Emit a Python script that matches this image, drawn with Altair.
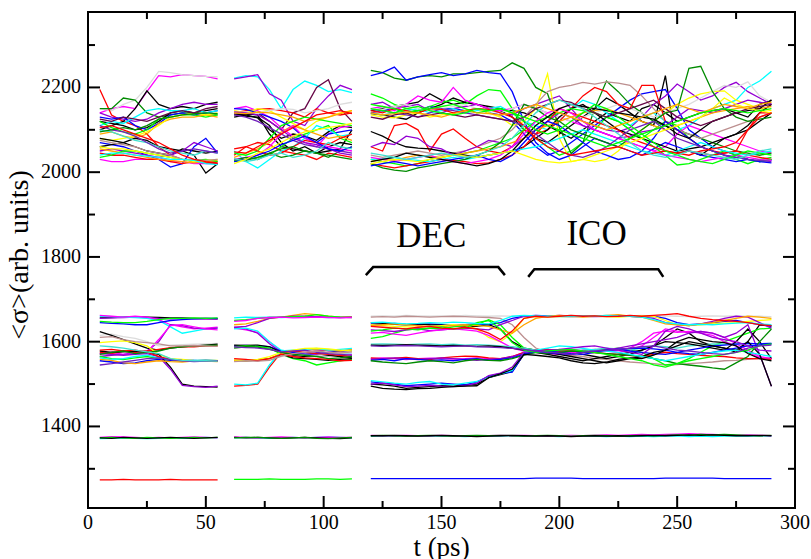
import altair as alt
import pandas as pd

# ---- sampling times (ps) of the three simulation windows ----
T_A = [5, 10, 15, 20, 25, 30, 35, 40, 45, 50, 55]
T_B = [62, 67, 72, 77, 82, 87, 92, 97, 102, 107, 112]
T_C = [120, 125, 130, 135, 140, 145, 150, 155, 160, 165, 170, 175,
       180, 185, 190, 195, 200, 205, 210, 215, 220, 225, 230, 235,
       240, 245, 250, 255, 260, 265, 270, 275, 280, 285, 290]

# ---- grace-style colour set ----
BLACK, RED, GREEN, BLUE = "#000000", "#ff0000", "#00ff00", "#0000ff"
YELLOW, BROWN, GREY, VIOLET = "#ffff00", "#bc8f8f", "#dcdcdc", "#9400d3"
CYAN, MAGENTA, ORANGE, INDIGO = "#00ffff", "#ff00ff", "#ffa500", "#7221bc"
MAROON, TURQ, GREEN4 = "#670748", "#40e0d0", "#008b00"

# ---- window A: upper band ----
A_UPPER = [
    (MAGENTA, [2140, 2150, 2155, 2150, 2190, 2228, 2225, 2230, 2228, 2226, 2220]),
    (GREY,    [2150, 2145, 2160, 2170, 2200, 2238, 2235, 2230, 2228, 2226, 2225]),
    (RED,     [2195, 2135, 2120, 2110, 2090, 2060, 2040, 2030, 2025, 2022, 2025]),
    (GREEN4,  [2150, 2150, 2175, 2170, 2140, 2130, 2135, 2140, 2140, 2135, 2135]),
    (BLACK,   [2100, 2110, 2120, 2150, 2192, 2160, 2150, 2155, 2150, 2160, 2165]),
    (BLACK,   [2120, 2115, 2110, 2100, 2105, 2120, 2140, 2145, 2140, 2145, 2150]),
    (VIOLET,  [2140, 2130, 2125, 2120, 2125, 2140, 2150, 2160, 2165, 2160, 2160]),
    (BLUE,    [2130, 2125, 2130, 2110, 2100, 2115, 2135, 2140, 2135, 2140, 2145]),
    (CYAN,    [2110, 2120, 2115, 2130, 2145, 2150, 2145, 2145, 2150, 2140, 2145]),
    (GREEN,   [2120, 2105, 2095, 2090, 2100, 2125, 2130, 2135, 2135, 2130, 2135]),
    (ORANGE,  [2090, 2095, 2085, 2080, 2090, 2115, 2125, 2130, 2130, 2135, 2130]),
    (YELLOW,  [2080, 2075, 2080, 2085, 2095, 2110, 2130, 2135, 2140, 2135, 2140]),
    (BLACK,   [2080, 2075, 2070, 2060, 2050, 2045, 2040, 2055, 2050, 2045, 2050]),
    (BLUE,    [2070, 2065, 2060, 2050, 2040, 2030, 2012, 2020, 2060, 2080, 2045]),
    (BLACK,   [2060, 2065, 2070, 2080, 2075, 2060, 2055, 2050, 2040, 1998, 2020]),
    (VIOLET,  [2050, 2055, 2050, 2045, 2040, 2035, 2040, 2050, 2070, 2060, 2050]),
    (MAGENTA, [2030, 2025, 2025, 2030, 2030, 2035, 2025, 2025, 2020, 2020, 2020]),
    (RED,     [2045, 2040, 2040, 2035, 2030, 2030, 2025, 2020, 2025, 2022, 2020]),
    (ORANGE,  [2055, 2050, 2045, 2040, 2035, 2030, 2028, 2025, 2022, 2025, 2028]),
    (GREEN,   [2035, 2040, 2050, 2050, 2045, 2040, 2035, 2030, 2028, 2030, 2025]),
    (TURQ,    [2100, 2095, 2085, 2075, 2070, 2060, 2050, 2045, 2040, 2050, 2045]),
    (YELLOW,  [2060, 2055, 2055, 2050, 2045, 2040, 2035, 2030, 2025, 2028, 2030]),
    (BROWN,   [2075, 2070, 2065, 2060, 2050, 2045, 2040, 2030, 2030, 2028, 2030]),
    (INDIGO,  [2110, 2100, 2095, 2085, 2070, 2055, 2045, 2050, 2055, 2050, 2045]),
    (GREEN4,  [2095, 2100, 2105, 2100, 2110, 2125, 2130, 2135, 2138, 2140, 2138]),
    (CYAN,    [2040, 2045, 2045, 2040, 2038, 2035, 2030, 2030, 2028, 2020, 2018]),
    (MAROON,  [2125, 2120, 2130, 2125, 2120, 2130, 2140, 2145, 2140, 2150, 2155]),
    (RED,     [2105, 2110, 2100, 2090, 2080, 2070, 2055, 2040, 2030, 2025, 2022]),
]

# ---- window B: upper band ----
B_UPPER = [
    (CYAN,    [2222, 2228, 2225, 2195, 2150, 2195, 2215, 2205, 2190, 2195, 2188]),
    (VIOLET,  [2220, 2225, 2230, 2185, 2170, 2120, 2110, 2150, 2180, 2205, 2195]),
    (MAROON,  [2140, 2135, 2140, 2120, 2100, 2140, 2150, 2200, 2218, 2150, 2120]),
    (BLACK,   [2135, 2138, 2135, 2090, 2060, 2055, 2050, 2045, 2060, 2070, 2065]),
    (BLACK,   [2138, 2132, 2130, 2110, 2070, 2050, 2060, 2045, 2050, 2055, 2100]),
    (BLACK,   [2130, 2135, 2128, 2100, 2080, 2090, 2085, 2075, 2095, 2110, 2105]),
    (RED,     [2140, 2145, 2148, 2150, 2145, 2140, 2130, 2150, 2140, 2135, 2140]),
    (MAGENTA, [2150, 2155, 2145, 2130, 2105, 2085, 2070, 2060, 2090, 2105, 2110]),
    (YELLOW,  [2145, 2140, 2150, 2145, 2130, 2115, 2100, 2120, 2130, 2140, 2145]),
    (BLUE,    [2150, 2148, 2140, 2130, 2120, 2105, 2080, 2070, 2090, 2095, 2100]),
    (GREEN,   [2025, 2030, 2035, 2040, 2060, 2080, 2090, 2100, 2110, 2080, 2070]),
    (RED,     [2040, 2060, 2070, 2065, 2050, 2045, 2040, 2030, 2045, 2040, 2035]),
    (GREEN4,  [2030, 2028, 2035, 2045, 2035, 2040, 2050, 2045, 2035, 2050, 2060]),
    (CYAN,    [2050, 2025, 2010, 2030, 2050, 2060, 2080, 2110, 2100, 2085, 2090]),
    (ORANGE,  [2035, 2045, 2055, 2070, 2095, 2110, 2100, 2090, 2080, 2085, 2075]),
    (GREEN,   [2045, 2040, 2050, 2080, 2110, 2120, 2130, 2125, 2120, 2115, 2110]),
    (MAGENTA, [2030, 2035, 2040, 2060, 2090, 2110, 2080, 2070, 2060, 2055, 2050]),
    (RED,     [2055, 2060, 2050, 2040, 2045, 2060, 2075, 2070, 2065, 2080, 2090]),
    (GREY,    [2140, 2142, 2138, 2145, 2150, 2148, 2140, 2145, 2150, 2160, 2165]),
    (VIOLET,  [2142, 2140, 2135, 2120, 2100, 2080, 2070, 2065, 2055, 2045, 2040]),
    (INDIGO,  [2135, 2130, 2120, 2105, 2090, 2075, 2065, 2060, 2055, 2050, 2045]),
    (BLUE,    [2025, 2030, 2040, 2050, 2065, 2075, 2085, 2070, 2055, 2050, 2060]),
    (GREEN4,  [2028, 2035, 2030, 2045, 2055, 2060, 2050, 2045, 2040, 2035, 2030]),
    (ORANGE,  [2140, 2138, 2142, 2140, 2135, 2130, 2120, 2125, 2130, 2138, 2145]),
    (TURQ,    [2032, 2025, 2030, 2040, 2045, 2035, 2040, 2050, 2070, 2060, 2055]),
    (YELLOW,  [2020, 2030, 2045, 2055, 2070, 2085, 2095, 2100, 2105, 2110, 2115]),
    (RED,     [2048, 2045, 2060, 2075, 2090, 2105, 2120, 2135, 2140, 2145, 2138]),
]

# ---- window C: upper band ----
C_UPPER = [
    (BLACK,   [2145, 2150, 2155, 2160, 2165, 2185, 2170, 2160, 2165, 2160, 2155, 2150, 2145, 2140, 2130, 2110, 2095, 2080, 2100, 2120, 2140, 2130, 2120, 2150, 2160, 2140, 2120, 2130, 2140, 2145, 2150, 2140, 2130, 2160, 2170]),
    (BLACK,   [2138, 2135, 2130, 2125, 2140, 2150, 2160, 2175, 2165, 2160, 2150, 2145, 2130, 2100, 2080, 2070, 2090, 2110, 2130, 2150, 2175, 2160, 2140, 2120, 2110, 2228, 2045, 2050, 2040, 2060, 2080, 2090, 2100, 2120, 2140]),
    (BLUE,    [2150, 2145, 2150, 2140, 2145, 2155, 2150, 2150, 2145, 2150, 2140, 2135, 2120, 2090, 2060, 2040, 2050, 2070, 2090, 2110, 2130, 2150, 2170, 2185, 2190, 2195, 2150, 2100, 2080, 2060, 2050, 2040, 2030, 2025, 2030]),
    (VIOLET,  [2160, 2165, 2150, 2155, 2160, 2145, 2140, 2150, 2155, 2160, 2150, 2140, 2135, 2150, 2160, 2170, 2180, 2150, 2120, 2110, 2100, 2095, 2105, 2130, 2160, 2180, 2208, 2190, 2170, 2180, 2200, 2212, 2190, 2175, 2160]),
    (GREEN,   [2185, 2175, 2160, 2150, 2145, 2155, 2165, 2170, 2160, 2180, 2195, 2192, 2150, 2100, 2080, 2060, 2040, 2050, 2070, 2100, 2130, 2120, 2100, 2080, 2100, 2120, 2110, 2080, 2060, 2050, 2040, 2030, 2020, 2030, 2035]),
    (CYAN,    [2140, 2135, 2140, 2145, 2150, 2140, 2145, 2150, 2140, 2145, 2150, 2155, 2140, 2120, 2110, 2100, 2120, 2150, 2170, 2160, 2140, 2120, 2110, 2130, 2140, 2120, 2100, 2110, 2130, 2150, 2160, 2170, 2200, 2215, 2238]),
    (MAGENTA, [2150, 2155, 2145, 2160, 2180, 2170, 2165, 2200, 2170, 2160, 2150, 2145, 2150, 2160, 2150, 2140, 2130, 2120, 2110, 2100, 2090, 2080, 2070, 2060, 2050, 2060, 2090, 2110, 2100, 2090, 2080, 2070, 2060, 2050, 2045]),
    (YELLOW,  [2135, 2130, 2128, 2135, 2140, 2130, 2135, 2140, 2145, 2150, 2140, 2130, 2110, 2120, 2150, 2232, 2080, 2025, 2030, 2025, 2030, 2050, 2080, 2100, 2120, 2140, 2160, 2175, 2185, 2190, 2192, 2170, 2160, 2150, 2145]),
    (GREEN4,  [2240, 2235, 2222, 2217, 2225, 2228, 2225, 2232, 2232, 2235, 2238, 2240, 2258, 2245, 2200, 2185, 2106, 2044, 2070, 2150, 2215, 2190, 2160, 2140, 2120, 2110, 2100, 2090, 2080, 2070, 2060, 2050, 2045, 2040, 2045]),
    (BLUE,    [2228, 2235, 2248, 2217, 2225, 2230, 2235, 2228, 2232, 2240, 2235, 2232, 2190, 2120, 2070, 2045, 2030, 2040, 2060, 2080, 2070, 2060, 2050, 2040, 2055, 2070, 2060, 2050, 2040, 2035, 2030, 2025, 2030, 2025, 2028]),
    (GREY,    [2150, 2148, 2155, 2160, 2150, 2145, 2150, 2155, 2160, 2150, 2145, 2140, 2150, 2160, 2150, 2140, 2130, 2120, 2130, 2140, 2150, 2160, 2150, 2140, 2130, 2140, 2150, 2160, 2175, 2190, 2205, 2200, 2213, 2180, 2165]),
    (BROWN,   [2040, 2035, 2040, 2045, 2050, 2045, 2040, 2045, 2050, 2060, 2070, 2080, 2100, 2130, 2160, 2190, 2200, 2205, 2212, 2208, 2213, 2210, 2205, 2180, 2150, 2120, 2100, 2090, 2080, 2090, 2100, 2110, 2120, 2130, 2140]),
    (RED,     [2060, 2050, 2110, 2115, 2100, 2050, 2090, 2102, 2080, 2060, 2050, 2045, 2060, 2100, 2090, 2100, 2120, 2150, 2180, 2200, 2190, 2160, 2150, 2205, 2205, 2120, 2100, 2080, 2060, 2050, 2045, 2050, 2040, 2035, 2030]),
    (BLACK,   [2096, 2085, 2070, 2060, 2057, 2055, 2050, 2045, 2040, 2035, 2040, 2045, 2050, 2060, 2080, 2100, 2130, 2150, 2160, 2140, 2120, 2100, 2090, 2080, 2070, 2060, 2050, 2055, 2060, 2070, 2080, 2090, 2110, 2140, 2160]),
    (VIOLET,  [2060, 2070, 2065, 2085, 2080, 2060, 2055, 2040, 2050, 2060, 2075, 2070, 2060, 2080, 2100, 2120, 2140, 2130, 2110, 2100, 2090, 2080, 2085, 2095, 2100, 2110, 2130, 2150, 2145, 2140, 2150, 2160, 2170, 2165, 2160]),
    (GREEN,   [2030, 2025, 2020, 2015, 2020, 2030, 2035, 2040, 2045, 2050, 2060, 2070, 2080, 2100, 2120, 2130, 2140, 2150, 2145, 2140, 2130, 2120, 2100, 2080, 2060, 2040, 2017, 2020, 2030, 2040, 2050, 2040, 2030, 2025, 2030]),
    (RED,     [2020, 2015, 2010, 2015, 2020, 2025, 2030, 2028, 2025, 2020, 2022, 2030, 2040, 2060, 2090, 2120, 2150, 2140, 2130, 2120, 2110, 2100, 2080, 2070, 2060, 2050, 2045, 2050, 2045, 2040, 2045, 2050, 2100, 2140, 2140]),
    (CYAN,    [2030, 2032, 2035, 2030, 2028, 2025, 2030, 2035, 2030, 2035, 2040, 2045, 2050, 2055, 2060, 2070, 2080, 2090, 2100, 2090, 2080, 2070, 2060, 2050, 2045, 2040, 2050, 2060, 2070, 2060, 2050, 2045, 2040, 2045, 2050]),
    (ORANGE,  [2025, 2030, 2028, 2035, 2040, 2038, 2035, 2040, 2045, 2050, 2055, 2060, 2070, 2080, 2100, 2110, 2120, 2130, 2140, 2145, 2150, 2140, 2130, 2120, 2110, 2100, 2110, 2120, 2130, 2140, 2145, 2150, 2155, 2150, 2155]),
    (GREEN4,  [2020, 2010, 2005, 2002, 2010, 2015, 2020, 2025, 2030, 2040, 2050, 2070, 2110, 2160, 2150, 2130, 2120, 2100, 2090, 2080, 2070, 2060, 2080, 2100, 2120, 2140, 2146, 2245, 2250, 2190, 2150, 2130, 2120, 2125, 2130]),
    (MAGENTA, [2035, 2030, 2025, 2030, 2035, 2040, 2030, 2025, 2020, 2025, 2030, 2040, 2060, 2090, 2120, 2140, 2150, 2140, 2120, 2100, 2090, 2080, 2070, 2060, 2050, 2040, 2035, 2030, 2025, 2030, 2035, 2040, 2035, 2030, 2028]),
    (BLUE,    [2015, 2020, 2025, 2020, 2015, 2020, 2025, 2030, 2035, 2040, 2030, 2025, 2040, 2070, 2100, 2120, 2110, 2090, 2070, 2050, 2040, 2030, 2035, 2050, 2080, 2120, 2100, 2080, 2060, 2050, 2040, 2035, 2030, 2025, 2022]),
    (BLACK,   [2025, 2030, 2035, 2045, 2040, 2035, 2030, 2025, 2020, 2015, 2020, 2030, 2050, 2080, 2110, 2130, 2150, 2160, 2155, 2150, 2145, 2140, 2135, 2130, 2125, 2110, 2090, 2080, 2100, 2120, 2130, 2140, 2145, 2150, 2170]),
    (INDIGO,  [2140, 2145, 2140, 2135, 2130, 2140, 2150, 2145, 2140, 2135, 2130, 2125, 2120, 2110, 2090, 2070, 2050, 2040, 2035, 2045, 2060, 2080, 2100, 2110, 2120, 2100, 2080, 2070, 2060, 2050, 2040, 2035, 2030, 2028, 2025]),
    (YELLOW,  [2020, 2025, 2030, 2028, 2025, 2030, 2035, 2040, 2038, 2035, 2040, 2045, 2050, 2040, 2030, 2025, 2022, 2025, 2030, 2040, 2050, 2060, 2070, 2080, 2090, 2100, 2110, 2120, 2130, 2150, 2175, 2160, 2150, 2145, 2140]),
    (RED,     [2145, 2140, 2150, 2145, 2140, 2150, 2148, 2140, 2145, 2150, 2148, 2140, 2130, 2110, 2080, 2060, 2050, 2040, 2045, 2050, 2055, 2060, 2050, 2040, 2045, 2050, 2045, 2040, 2050, 2055, 2060, 2070, 2100, 2130, 2140]),
    (GREEN,   [2160, 2155, 2150, 2140, 2145, 2150, 2155, 2160, 2150, 2140, 2145, 2150, 2140, 2120, 2100, 2090, 2100, 2120, 2140, 2160, 2150, 2130, 2110, 2090, 2070, 2050, 2040, 2030, 2025, 2020, 2030, 2040, 2050, 2045, 2040]),
    (MAROON,  [2130, 2125, 2135, 2140, 2130, 2135, 2140, 2135, 2130, 2135, 2130, 2125, 2120, 2130, 2150, 2160, 2170, 2165, 2150, 2140, 2130, 2140, 2150, 2160, 2170, 2150, 2130, 2120, 2110, 2120, 2130, 2140, 2150, 2155, 2160]),
    (TURQ,    [2045, 2040, 2035, 2030, 2035, 2040, 2045, 2040, 2035, 2040, 2050, 2060, 2080, 2110, 2140, 2160, 2170, 2160, 2150, 2130, 2110, 2090, 2070, 2050, 2040, 2035, 2040, 2050, 2045, 2040, 2035, 2030, 2040, 2050, 2055]),
    (ORANGE,  [2140, 2135, 2138, 2142, 2140, 2135, 2130, 2138, 2145, 2140, 2138, 2135, 2140, 2150, 2160, 2150, 2140, 2130, 2120, 2110, 2100, 2110, 2120, 2130, 2140, 2150, 2160, 2150, 2140, 2150, 2160, 2155, 2150, 2160, 2165]),
    (GREEN,   [2150, 2145, 2140, 2150, 2155, 2145, 2140, 2135, 2140, 2150, 2145, 2150, 2140, 2130, 2120, 2110, 2100, 2090, 2080, 2070, 2060, 2070, 2080, 2090, 2100, 2110, 2120, 2130, 2140, 2145, 2150, 2145, 2140, 2145, 2150]),
]

# ---- window A: middle band ----
A_MIDDLE = [
    (BLACK,   [1656, 1657, 1658, 1659, 1658, 1657, 1656, 1656, 1655, 1655, 1654]),
    (VIOLET,  [1655, 1656, 1657, 1658, 1657, 1655, 1654, 1655, 1654, 1653, 1653]),
    (CYAN,    [1660, 1659, 1658, 1657, 1655, 1650, 1635, 1620, 1625, 1630, 1632]),
    (MAGENTA, [1662, 1660, 1658, 1660, 1658, 1652, 1640, 1635, 1630, 1632, 1634]),
    (BLUE,    [1645, 1643, 1642, 1640, 1640, 1645, 1650, 1652, 1654, 1655, 1655]),
    (GREEN,   [1648, 1646, 1645, 1645, 1648, 1652, 1655, 1655, 1656, 1655, 1656]),
    (VIOLET,  [1565, 1568, 1570, 1575, 1578, 1600, 1640, 1638, 1632, 1630, 1632]),
    (MAGENTA, [1572, 1575, 1570, 1572, 1575, 1605, 1638, 1640, 1635, 1630, 1628]),
    (GREY,    [1615, 1618, 1612, 1608, 1600, 1590, 1592, 1593, 1594, 1595, 1596]),
    (BLACK,   [1624, 1615, 1605, 1595, 1585, 1580, 1585, 1588, 1590, 1592, 1594]),
    (RED,     [1575, 1572, 1578, 1575, 1578, 1582, 1586, 1588, 1588, 1590, 1590]),
    (YELLOW,  [1598, 1600, 1602, 1598, 1590, 1570, 1560, 1558, 1556, 1555, 1556]),
    (GREEN,   [1565, 1560, 1558, 1562, 1565, 1560, 1556, 1555, 1554, 1555, 1554]),
    (BLUE,    [1555, 1552, 1548, 1550, 1555, 1558, 1556, 1555, 1556, 1554, 1555]),
    (BLACK,   [1578, 1575, 1576, 1578, 1575, 1570, 1540, 1500, 1495, 1494, 1493]),
    (VIOLET,  [1572, 1570, 1568, 1570, 1572, 1565, 1535, 1497, 1494, 1492, 1495]),
    (CYAN,    [1562, 1558, 1560, 1565, 1568, 1562, 1558, 1555, 1556, 1557, 1555]),
    (ORANGE,  [1558, 1556, 1550, 1548, 1552, 1555, 1553, 1552, 1555, 1554, 1553]),
    (RED,     [1580, 1582, 1578, 1580, 1576, 1565, 1558, 1556, 1555, 1556, 1555]),
    (GREEN4,  [1570, 1575, 1578, 1572, 1575, 1578, 1585, 1588, 1590, 1591, 1592]),
    (INDIGO,  [1545, 1548, 1552, 1556, 1560, 1562, 1558, 1555, 1553, 1554, 1555]),
    (TURQ,    [1590, 1588, 1585, 1580, 1576, 1572, 1560, 1556, 1555, 1555, 1554]),
    (BROWN,   [1610, 1612, 1605, 1600, 1598, 1595, 1590, 1590, 1591, 1590, 1589]),
]

# ---- window B: middle band ----
B_MIDDLE = [
    (CYAN,    [1656, 1658, 1657, 1658, 1657, 1658, 1659, 1658, 1657, 1658, 1658]),
    (ORANGE,  [1640, 1642, 1648, 1655, 1658, 1662, 1666, 1664, 1660, 1658, 1659]),
    (VIOLET,  [1634, 1636, 1645, 1655, 1658, 1660, 1660, 1659, 1658, 1657, 1658]),
    (GREEN,   [1650, 1652, 1655, 1657, 1658, 1659, 1660, 1664, 1660, 1658, 1657]),
    (MAGENTA, [1632, 1628, 1622, 1600, 1578, 1575, 1572, 1570, 1575, 1572, 1570]),
    (VIOLET,  [1634, 1630, 1620, 1595, 1575, 1572, 1575, 1578, 1580, 1576, 1575]),
    (CYAN,    [1630, 1632, 1625, 1600, 1580, 1576, 1574, 1572, 1570, 1572, 1574]),
    (BLUE,    [1590, 1591, 1590, 1588, 1578, 1575, 1570, 1572, 1575, 1578, 1580]),
    (BLACK,   [1592, 1591, 1592, 1588, 1575, 1568, 1565, 1566, 1568, 1565, 1562]),
    (GREEN,   [1588, 1590, 1589, 1585, 1570, 1560, 1555, 1545, 1550, 1555, 1558]),
    (BLACK,   [1556, 1555, 1557, 1560, 1570, 1562, 1560, 1558, 1556, 1558, 1560]),
    (GREY,    [1558, 1556, 1555, 1558, 1565, 1570, 1568, 1566, 1570, 1572, 1575]),
    (ORANGE,  [1555, 1557, 1556, 1560, 1572, 1578, 1580, 1582, 1580, 1578, 1582]),
    (RED,     [1495, 1497, 1500, 1540, 1575, 1578, 1575, 1572, 1570, 1568, 1565]),
    (CYAN,    [1500, 1498, 1502, 1545, 1578, 1580, 1582, 1584, 1580, 1582, 1584]),
    (YELLOW,  [1557, 1555, 1558, 1565, 1575, 1580, 1584, 1585, 1583, 1580, 1578]),
    (RED,     [1560, 1558, 1555, 1560, 1570, 1565, 1562, 1560, 1558, 1555, 1556]),
    (GREEN4,  [1585, 1588, 1587, 1582, 1575, 1570, 1568, 1565, 1560, 1562, 1565]),
    (MAGENTA, [1648, 1650, 1655, 1657, 1658, 1656, 1657, 1658, 1657, 1656, 1657]),
    (INDIGO,  [1588, 1586, 1585, 1582, 1576, 1578, 1580, 1575, 1572, 1570, 1568]),
    (BROWN,   [1553, 1555, 1554, 1556, 1566, 1572, 1575, 1578, 1575, 1573, 1576]),
]

# ---- window C: middle band ----
C_MIDDLE = [
    (GREY,    [1660, 1661, 1660, 1662, 1661, 1660, 1661, 1660, 1662, 1661, 1660, 1661, 1660, 1659, 1660, 1661, 1660, 1662, 1661, 1660, 1661, 1660, 1661, 1662, 1660, 1661, 1660, 1659, 1660, 1661, 1660, 1661, 1660, 1660, 1659]),
    (BROWN,   [1658, 1659, 1658, 1660, 1659, 1658, 1659, 1660, 1659, 1658, 1657, 1655, 1640, 1610, 1585, 1575, 1570, 1568, 1565, 1560, 1558, 1555, 1552, 1550, 1548, 1545, 1546, 1548, 1550, 1552, 1555, 1556, 1558, 1560, 1562]),
    (BLUE,    [1642, 1640, 1643, 1641, 1640, 1642, 1640, 1638, 1640, 1642, 1640, 1645, 1655, 1660, 1662, 1661, 1660, 1659, 1660, 1661, 1660, 1662, 1660, 1659, 1660, 1655, 1645, 1640, 1642, 1645, 1648, 1650, 1645, 1640, 1636]),
    (BLACK,   [1645, 1643, 1641, 1640, 1642, 1640, 1639, 1638, 1637, 1636, 1640, 1630, 1600, 1585, 1580, 1582, 1578, 1575, 1570, 1565, 1560, 1565, 1570, 1580, 1590, 1610, 1630, 1620, 1600, 1590, 1585, 1575, 1600, 1640, 1638]),
    (YELLOW,  [1640, 1638, 1636, 1635, 1634, 1636, 1638, 1640, 1638, 1630, 1610, 1600, 1620, 1655, 1660, 1658, 1660, 1659, 1661, 1660, 1659, 1658, 1660, 1661, 1660, 1650, 1640, 1638, 1640, 1642, 1644, 1645, 1648, 1650, 1652]),
    (GREEN,   [1608, 1612, 1620, 1628, 1630, 1632, 1630, 1635, 1638, 1640, 1652, 1640, 1610, 1585, 1580, 1578, 1582, 1575, 1578, 1580, 1582, 1585, 1580, 1575, 1560, 1545, 1548, 1560, 1575, 1590, 1600, 1610, 1620, 1630, 1632]),
    (VIOLET,  [1628, 1626, 1624, 1628, 1630, 1626, 1628, 1630, 1632, 1630, 1628, 1640, 1650, 1660, 1661, 1660, 1662, 1661, 1660, 1659, 1660, 1661, 1660, 1658, 1655, 1645, 1640, 1638, 1642, 1648, 1655, 1660, 1658, 1645, 1632]),
    (MAGENTA, [1620, 1622, 1618, 1615, 1620, 1625, 1628, 1630, 1628, 1625, 1615, 1600, 1585, 1578, 1575, 1572, 1570, 1575, 1580, 1582, 1578, 1575, 1580, 1590, 1610, 1630, 1625, 1622, 1624, 1620, 1610, 1595, 1580, 1565, 1560]),
    (TURQ,    [1594, 1595, 1594, 1593, 1594, 1595, 1593, 1594, 1592, 1593, 1592, 1590, 1588, 1585, 1580, 1578, 1575, 1578, 1580, 1582, 1585, 1583, 1580, 1585, 1590, 1588, 1585, 1590, 1592, 1595, 1594, 1595, 1596, 1595, 1596]),
    (BLACK,   [1592, 1591, 1592, 1593, 1592, 1591, 1590, 1591, 1590, 1589, 1590, 1588, 1585, 1580, 1575, 1570, 1565, 1560, 1555, 1560, 1565, 1570, 1575, 1580, 1590, 1600, 1598, 1595, 1590, 1585, 1580, 1600, 1630, 1600, 1560]),
    (MAGENTA, [1560, 1562, 1560, 1558, 1560, 1561, 1560, 1559, 1560, 1562, 1560, 1558, 1565, 1575, 1580, 1578, 1576, 1575, 1574, 1575, 1578, 1580, 1585, 1600, 1620, 1625, 1622, 1624, 1620, 1615, 1600, 1590, 1575, 1562, 1560]),
    (RED,     [1562, 1560, 1561, 1563, 1560, 1558, 1562, 1564, 1566, 1565, 1562, 1560, 1565, 1575, 1580, 1582, 1578, 1580, 1576, 1574, 1572, 1570, 1568, 1565, 1570, 1575, 1572, 1570, 1568, 1566, 1565, 1562, 1560, 1560, 1558]),
    (VIOLET,  [1558, 1560, 1562, 1560, 1558, 1560, 1562, 1560, 1558, 1556, 1558, 1560, 1565, 1572, 1578, 1575, 1580, 1582, 1578, 1575, 1580, 1585, 1590, 1595, 1600, 1605, 1610, 1620, 1624, 1620, 1610, 1620, 1640, 1570, 1495]),
    (BLUE,    [1556, 1558, 1555, 1560, 1558, 1556, 1557, 1555, 1558, 1560, 1556, 1558, 1562, 1570, 1575, 1578, 1575, 1572, 1570, 1575, 1580, 1582, 1578, 1575, 1572, 1570, 1575, 1580, 1585, 1590, 1592, 1594, 1596, 1595, 1596]),
    (GREEN4,  [1555, 1552, 1550, 1548, 1552, 1555, 1553, 1550, 1555, 1558, 1556, 1555, 1560, 1568, 1575, 1572, 1575, 1578, 1576, 1574, 1572, 1570, 1568, 1565, 1560, 1555, 1548, 1545, 1542, 1538, 1535, 1550, 1565, 1600, 1630]),
    (BLACK,   [1500, 1498, 1495, 1490, 1492, 1494, 1496, 1495, 1498, 1500, 1515, 1522, 1530, 1570, 1578, 1575, 1570, 1565, 1560, 1555, 1550, 1555, 1560, 1565, 1575, 1580, 1590, 1600, 1595, 1590, 1585, 1580, 1600, 1570, 1495]),
    (BLUE,    [1505, 1502, 1500, 1496, 1498, 1500, 1502, 1500, 1498, 1505, 1518, 1525, 1528, 1572, 1576, 1574, 1572, 1570, 1575, 1578, 1580, 1582, 1584, 1585, 1583, 1580, 1575, 1572, 1570, 1575, 1580, 1585, 1590, 1592, 1594]),
    (CYAN,    [1508, 1505, 1502, 1500, 1504, 1506, 1500, 1498, 1502, 1506, 1516, 1524, 1532, 1575, 1580, 1585, 1590, 1588, 1584, 1580, 1578, 1575, 1570, 1565, 1560, 1555, 1560, 1565, 1570, 1575, 1578, 1580, 1575, 1570, 1565]),
    (VIOLET,  [1500, 1502, 1498, 1494, 1495, 1497, 1495, 1494, 1496, 1502, 1520, 1526, 1540, 1575, 1578, 1580, 1582, 1585, 1588, 1590, 1585, 1580, 1575, 1570, 1590, 1625, 1636, 1630, 1620, 1610, 1605, 1600, 1590, 1580, 1578]),
    (BLACK,   [1495, 1490, 1488, 1487, 1489, 1490, 1492, 1494, 1495, 1496, 1515, 1524, 1535, 1570, 1568, 1565, 1562, 1555, 1550, 1548, 1552, 1558, 1562, 1560, 1568, 1580, 1600, 1610, 1605, 1600, 1598, 1590, 1572, 1560, 1555]),
    (ORANGE,  [1638, 1640, 1642, 1640, 1638, 1636, 1635, 1638, 1640, 1638, 1636, 1628, 1620, 1640, 1655, 1660, 1662, 1660, 1658, 1660, 1662, 1664, 1660, 1658, 1650, 1642, 1640, 1638, 1642, 1645, 1650, 1655, 1660, 1658, 1655]),
    (GREEN,   [1625, 1628, 1632, 1630, 1628, 1632, 1635, 1630, 1632, 1645, 1650, 1630, 1598, 1580, 1575, 1578, 1580, 1582, 1578, 1575, 1570, 1565, 1560, 1555, 1545, 1540, 1548, 1555, 1560, 1565, 1570, 1575, 1580, 1590, 1595]),
    (CYAN,    [1645, 1646, 1644, 1642, 1643, 1645, 1644, 1646, 1645, 1643, 1642, 1650, 1660, 1662, 1661, 1660, 1659, 1660, 1661, 1660, 1662, 1661, 1660, 1658, 1652, 1645, 1642, 1640, 1641, 1640, 1642, 1644, 1645, 1642, 1640]),
    (RED,     [1636, 1634, 1632, 1630, 1634, 1636, 1632, 1630, 1634, 1630, 1620, 1605, 1625, 1655, 1660, 1658, 1660, 1662, 1660, 1661, 1659, 1660, 1662, 1660, 1662, 1664, 1666, 1660, 1655, 1652, 1650, 1648, 1645, 1640, 1638]),
    (INDIGO,  [1590, 1589, 1590, 1591, 1590, 1589, 1588, 1589, 1590, 1588, 1587, 1586, 1584, 1582, 1578, 1575, 1573, 1570, 1575, 1578, 1580, 1582, 1585, 1588, 1590, 1585, 1580, 1578, 1575, 1572, 1570, 1575, 1585, 1590, 1592]),
]

# ---- ~1375 band ----
A_1375 = [
    (CYAN,    [1371, 1372, 1373, 1372, 1371, 1372, 1373, 1372, 1373, 1374, 1373]),
    (MAGENTA, [1374, 1376, 1375, 1374, 1373, 1374, 1373, 1374, 1375, 1374, 1373]),
    (GREEN,   [1373, 1374, 1373, 1372, 1374, 1373, 1372, 1373, 1374, 1373, 1374]),
    (BLACK,   [1373, 1372, 1374, 1373, 1372, 1373, 1374, 1373, 1372, 1373, 1374]),
]
B_1375 = [
    (CYAN,    [1373, 1374, 1373, 1372, 1373, 1374, 1373, 1374, 1375, 1374, 1373]),
    (MAGENTA, [1375, 1374, 1373, 1374, 1375, 1374, 1373, 1374, 1375, 1374, 1374]),
    (BLACK,   [1374, 1373, 1374, 1373, 1372, 1373, 1374, 1373, 1372, 1371, 1373]),
    (GREEN4,  [1373, 1374, 1374, 1373, 1372, 1373, 1374, 1372, 1371, 1373, 1374]),
]
C_1375 = [
    (CYAN,    [1377, 1378, 1377, 1378, 1378, 1377, 1378, 1377, 1376, 1377, 1378, 1377, 1378, 1377, 1378, 1377, 1376, 1377, 1378, 1377, 1376, 1377, 1376, 1377, 1376, 1377, 1378, 1376, 1377, 1376, 1377, 1378, 1377, 1378, 1377]),
    (MAGENTA, [1379, 1378, 1378, 1379, 1378, 1378, 1379, 1378, 1378, 1377, 1378, 1379, 1378, 1379, 1378, 1377, 1378, 1379, 1378, 1379, 1380, 1379, 1380, 1381, 1380, 1381, 1382, 1383, 1382, 1381, 1380, 1379, 1380, 1379, 1378]),
    (GREEN4,  [1378, 1379, 1378, 1377, 1378, 1379, 1378, 1377, 1378, 1379, 1378, 1379, 1378, 1377, 1378, 1379, 1378, 1377, 1378, 1379, 1378, 1377, 1378, 1379, 1378, 1379, 1380, 1379, 1381, 1380, 1381, 1380, 1379, 1378, 1379]),
    (BLACK,   [1378, 1378, 1379, 1378, 1377, 1378, 1379, 1378, 1377, 1376, 1377, 1378, 1379, 1378, 1377, 1378, 1377, 1376, 1377, 1378, 1377, 1378, 1377, 1378, 1379, 1378, 1379, 1380, 1379, 1380, 1379, 1378, 1378, 1379, 1378]),
]

# ---- ~1275 level ----
A_1275 = [(RED,   [1274, 1274, 1275, 1274, 1274, 1274, 1275, 1274, 1274, 1274, 1274])]
B_1275 = [(GREEN, [1275, 1275, 1275, 1276, 1275, 1275, 1275, 1276, 1276, 1275, 1276])]
C_1275 = [(BLUE,  [1277, 1277, 1277, 1277, 1277, 1277, 1277, 1277, 1277, 1277, 1277, 1277, 1277, 1277, 1278, 1278, 1278, 1278, 1277, 1277, 1277, 1277, 1277, 1277, 1277, 1278, 1278, 1278, 1278, 1278, 1277, 1277, 1277, 1277, 1277])]

# ---- annotations ----
LABELS = ["DEC", "ICO"]
LABEL_T = [145.7, 215.8]
LABEL_V = [1823, 1827]
BRACKET_ID = ["DEC", "DEC", "DEC", "DEC", "ICO", "ICO", "ICO", "ICO"]
BRACKET_T = [117.9, 121.0, 174.1, 176.9, 186.8, 189.4, 242.0, 244.1]
BRACKET_V = [1757, 1776, 1776, 1757, 1753, 1771, 1771, 1753]

# ---- axes: tick positions and titles ----
X_MAJOR = [0, 50, 100, 150, 200, 250, 300]
X_MINOR = [25, 75, 125, 175, 225, 275]
Y_MAJOR = [1400, 1600, 1800, 2000, 2200]
Y_MINOR = [1300, 1500, 1700, 1900, 2100, 2300]
X_TITLE = "t (ps)"
Y_TITLE = "<σ>(arb. units)"

W, H = 707, 496
SERIF = "Liberation Serif"

rows = []
def add(prefix, times, traces):
    for j, (col, vals) in enumerate(traces):
        for t, v in zip(times, vals):
            rows.append({"t": t, "v": v, "c": col, "id": f"{prefix}{j:02d}"})

add("A1", T_A, A_UPPER)
add("A2", T_A, A_MIDDLE)
add("A3", T_A, A_1375)
add("A4", T_A, A_1275)
add("B1", T_B, B_UPPER)
add("B2", T_B, B_MIDDLE)
add("B3", T_B, B_1375)
add("B4", T_B, B_1275)
add("C1", T_C, C_UPPER)
add("C2", T_C, C_MIDDLE)
add("C3", T_C, C_1375)
add("C4", T_C, C_1275)
traces = pd.DataFrame(rows)

x_scale = alt.Scale(domain=[0, 300], nice=False, zero=False)
y_scale = alt.Scale(domain=[1207.5, 2378], nice=False, zero=False)

def X():
    return alt.X("t:Q", scale=x_scale, axis=None)

def Y():
    return alt.Y("v:Q", scale=y_scale, axis=None)

lines = alt.Chart(traces).mark_line(strokeWidth=1.3, clip=True).encode(
    x=X(), y=Y(),
    color=alt.Color("c:N", scale=None),
    detail="id:N",
)

# inward-pointing ticks on all four sides (grace style)
def xticks(vals, length, top):
    df = pd.DataFrame({"t": vals})
    y0 = 0 if top else H
    y1 = length if top else H - length
    return alt.Chart(df).mark_rule(color="black", strokeWidth=2).encode(
        x=X(), y=alt.value(y0), y2=alt.value(y1),
    )

def yticks(vals, length, right):
    df = pd.DataFrame({"v": vals})
    x0 = W if right else 0
    x1 = W - length if right else length
    return alt.Chart(df).mark_rule(color="black", strokeWidth=2).encode(
        y=Y(), x=alt.value(x0), x2=alt.value(x1),
    )

tick_layers = [
    xticks(X_MAJOR, 12, False), xticks(X_MINOR, 7, False),
    xticks(X_MAJOR, 12, True), xticks(X_MINOR, 7, True),
    yticks(Y_MAJOR, 12, False), yticks(Y_MINOR, 7, False),
    yticks(Y_MAJOR, 12, True), yticks(Y_MINOR, 7, True),
]

# tick labels and axis titles, serif like the rest of the figure
xlab = alt.Chart(pd.DataFrame({"t": X_MAJOR, "s": [str(v) for v in X_MAJOR]})).mark_text(
    font=SERIF, fontSize=20, color="black", align="center", baseline="top"
).encode(x=X(), y=alt.value(H + 5), text="s:N")

ylab = alt.Chart(pd.DataFrame({"v": Y_MAJOR, "s": [str(v) for v in Y_MAJOR]})).mark_text(
    font=SERIF, fontSize=20, color="black", align="right", baseline="middle"
).encode(y=Y(), x=alt.value(-7), text="s:N")

xtitle = alt.Chart(pd.DataFrame({"s": [X_TITLE]})).mark_text(
    font=SERIF, fontSize=27, color="black", align="center", baseline="alphabetic"
).encode(x=alt.value(W / 2), y=alt.value(H + 48), text="s:N")

ytitle = alt.Chart(pd.DataFrame({"s": [Y_TITLE]})).mark_text(
    font=SERIF, fontSize=28, color="black", align="center", baseline="middle", angle=270
).encode(x=alt.value(-68), y=alt.value(243), text="s:N")

brackets_df = pd.DataFrame({
    "t": BRACKET_T, "v": BRACKET_V, "bid": BRACKET_ID,
    "k": list(range(len(BRACKET_T))),
})
brackets = alt.Chart(brackets_df).mark_line(color="black", strokeWidth=2.5).encode(
    x=X(), y=Y(), detail="bid:N", order="k:Q",
)

labels_df = pd.DataFrame({"t": LABEL_T, "v": LABEL_V, "txt": LABELS})
labels = alt.Chart(labels_df).mark_text(
    font=SERIF, fontSize=35, color="black", align="center", baseline="alphabetic"
).encode(x=X(), y=Y(), text="txt:N")

chart = alt.layer(
    lines, *tick_layers, xlab, ylab, xtitle, ytitle, brackets, labels
).properties(
    width=W, height=H,
    autosize=alt.AutoSizeParams(type="none"),
    padding={"left": 88, "top": 12, "right": 16, "bottom": 51},
    background="white",
).configure_view(stroke="black", strokeWidth=2)

chart.save("out.html", embed_options={"renderer": "svg", "actions": False})
